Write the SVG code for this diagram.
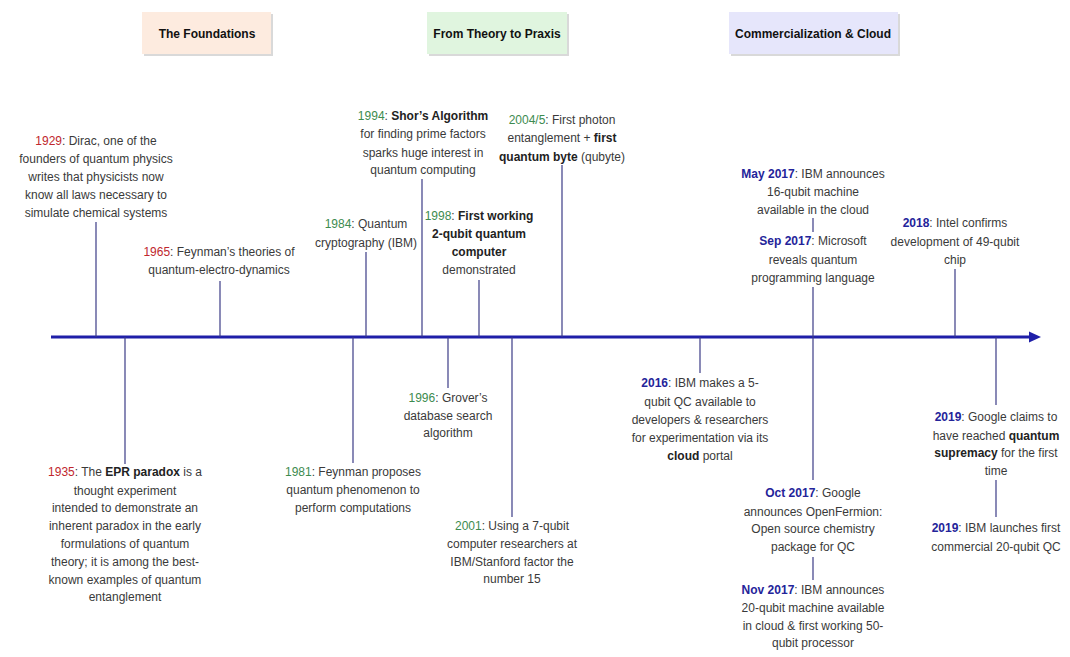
<svg xmlns="http://www.w3.org/2000/svg" width="1070" height="657" viewBox="0 0 1070 657">
<style>
text{font-family:"Liberation Sans",Arial,sans-serif;font-size:12px;fill:#3a3a3a;text-anchor:middle}
.h{font-weight:bold;fill:#111}
.r{fill:#c0272d}
.g{fill:#3d8b4f}
.b{fill:#24249a;font-weight:bold}
.k{font-weight:bold;fill:#222}
.tk{stroke:#3b3b86;stroke-width:1.2;fill:none}
.sh{fill:#d9d9d9}
</style>
<rect width="1070" height="657" fill="#fff"/>
<g id="hdr-foundations">
<rect class="sh" x="144" y="14" width="129" height="42"/>
<rect x="142" y="12" width="129" height="42" fill="#fdebdf"/>
<text class="h" x="207" y="38">The Foundations</text>
</g>
<g id="hdr-theory">
<rect class="sh" x="429" y="14" width="140" height="42"/>
<rect x="427" y="12" width="140" height="42" fill="#e0f5df"/>
<text class="h" x="497" y="38">From Theory to Praxis</text>
</g>
<g id="hdr-commercial">
<rect class="sh" x="731" y="14" width="169" height="42"/>
<rect x="729" y="12" width="169" height="42" fill="#e6e6fb"/>
<text class="h" x="813" y="38">Commercialization &amp; Cloud</text>
</g>
<g id="connectors">
<line x1="51" y1="337" x2="1032" y2="337" stroke="#1f1fa8" stroke-width="3"/>
<polygon points="1029,331.5 1041,337 1029,342.5" fill="#1f1fa8"/>
<line class="tk" x1="96" y1="222" x2="96" y2="337"/>
<line class="tk" x1="220" y1="281" x2="220" y2="337"/>
<line class="tk" x1="366" y1="252" x2="366" y2="337"/>
<line class="tk" x1="422" y1="179" x2="422" y2="337"/>
<line class="tk" x1="479" y1="280" x2="479" y2="337"/>
<line class="tk" x1="562" y1="165" x2="562" y2="337"/>
<line class="tk" x1="813" y1="218" x2="813" y2="232"/>
<line class="tk" x1="813" y1="287" x2="813" y2="480"/>
<line class="tk" x1="955" y1="269" x2="955" y2="337"/>
<line class="tk" x1="125" y1="337" x2="125" y2="464"/>
<line class="tk" x1="353" y1="337" x2="353" y2="463"/>
<line class="tk" x1="448" y1="337" x2="448" y2="388"/>
<line class="tk" x1="512" y1="337" x2="512" y2="517"/>
<line class="tk" x1="700" y1="337" x2="700" y2="373"/>
<line class="tk" x1="813" y1="557" x2="813" y2="580"/>
<line class="tk" x1="996" y1="337" x2="996" y2="405"/>
<line class="tk" x1="996" y1="480" x2="996" y2="517"/>
</g>
<g id="e1929">
<text x="96" y="145"><tspan class="r">1929</tspan>:  Dirac, one of the</text>
<text x="96" y="163">founders of quantum physics</text>
<text x="96" y="181">writes that physicists now</text>
<text x="96" y="199">know all laws necessary to</text>
<text x="96" y="217">simulate chemical systems</text>
</g>
<g id="e1965">
<text x="219" y="256"><tspan class="r">1965</tspan>:  Feynman’s theories of</text>
<text x="219" y="274">quantum-electro-dynamics</text>
</g>
<g id="e1984">
<text x="366" y="228"><tspan class="g">1984</tspan>: Quantum</text>
<text x="366" y="247">cryptography (IBM)</text>
</g>
<g id="e1994">
<text x="423" y="120"><tspan class="g">1994</tspan>: <tspan class="k">Shor’s Algorithm</tspan></text>
<text x="423" y="138">for finding prime factors</text>
<text x="423" y="157">sparks huge interest in</text>
<text x="423" y="174">quantum computing</text>
</g>
<g id="e2004">
<text x="562" y="124"><tspan class="g">2004/5</tspan>:  First photon</text>
<text x="562" y="142">entanglement + <tspan class="k">first</tspan></text>
<text x="562" y="161"><tspan class="k">quantum byte</tspan> (qubyte)</text>
</g>
<g id="e1998">
<text x="479" y="220"><tspan class="g">1998</tspan>: <tspan class="k">First working</tspan></text>
<text class="k" x="479" y="238">2-qubit quantum</text>
<text class="k" x="479" y="256">computer</text>
<text x="479" y="274">demonstrated</text>
</g>
<g id="eMay2017">
<text x="813" y="178"><tspan class="b">May 2017</tspan>:  IBM announces</text>
<text x="813" y="196">16-qubit machine</text>
<text x="813" y="214">available in the cloud</text>
</g>
<g id="eSep2017">
<text x="813" y="245"><tspan class="b">Sep 2017</tspan>:  Microsoft</text>
<text x="813" y="264">reveals quantum</text>
<text x="813" y="282">programming language</text>
</g>
<g id="e2018">
<text x="955" y="227"><tspan class="b">2018</tspan>:  Intel confirms</text>
<text x="955" y="246">development of 49-qubit</text>
<text x="955" y="264">chip</text>
</g>
<g id="e1935">
<text x="125" y="476"><tspan class="r">1935</tspan>:  The <tspan class="k">EPR paradox</tspan> is a</text>
<text x="125" y="495">thought experiment</text>
<text x="125" y="512">intended to demonstrate an</text>
<text x="125" y="530">inherent paradox in the early</text>
<text x="125" y="548">formulations of quantum</text>
<text x="125" y="566">theory; it is among the best-</text>
<text x="125" y="584">known examples of quantum</text>
<text x="125" y="601">entanglement</text>
</g>
<g id="e1981">
<text x="353" y="476"><tspan class="g">1981</tspan>:  Feynman proposes</text>
<text x="353" y="494">quantum phenomenon to</text>
<text x="353" y="512">perform computations</text>
</g>
<g id="e1996">
<text x="448" y="402"><tspan class="g">1996</tspan>: Grover’s</text>
<text x="448" y="420">database search</text>
<text x="448" y="437">algorithm</text>
</g>
<g id="e2001">
<text x="512" y="530"><tspan class="g">2001</tspan>:  Using a 7-qubit</text>
<text x="512" y="548">computer researchers at</text>
<text x="512" y="566">IBM/Stanford factor the</text>
<text x="512" y="583">number 15</text>
</g>
<g id="e2016">
<text x="700" y="387"><tspan class="b">2016</tspan>:  IBM makes a 5-</text>
<text x="700" y="406">qubit QC available to</text>
<text x="700" y="424">developers &amp; researchers</text>
<text x="700" y="442">for experimentation via its</text>
<text x="700" y="460"><tspan class="k">cloud</tspan> portal</text>
</g>
<g id="e2019google">
<text x="996" y="421"><tspan class="b">2019</tspan>:  Google claims to</text>
<text x="996" y="440">have reached <tspan class="k">quantum</tspan></text>
<text x="996" y="457"><tspan class="k">supremacy</tspan> for the first</text>
<text x="996" y="475">time</text>
</g>
<g id="eOct2017">
<text x="813" y="497"><tspan class="b">Oct 2017</tspan>:  Google</text>
<text x="813" y="516">announces OpenFermion:</text>
<text x="813" y="533">Open source chemistry</text>
<text x="813" y="551">package for QC</text>
</g>
<g id="eNov2017">
<text x="813" y="594"><tspan class="b">Nov 2017</tspan>:  IBM announces</text>
<text x="813" y="612">20-qubit machine available</text>
<text x="813" y="630">in cloud &amp; first working 50-</text>
<text x="813" y="647">qubit processor</text>
</g>
<g id="e2019ibm">
<text x="996" y="532"><tspan class="b">2019</tspan>:  IBM launches first</text>
<text x="996" y="551">commercial 20-qubit QC</text>
</g>
</svg>
